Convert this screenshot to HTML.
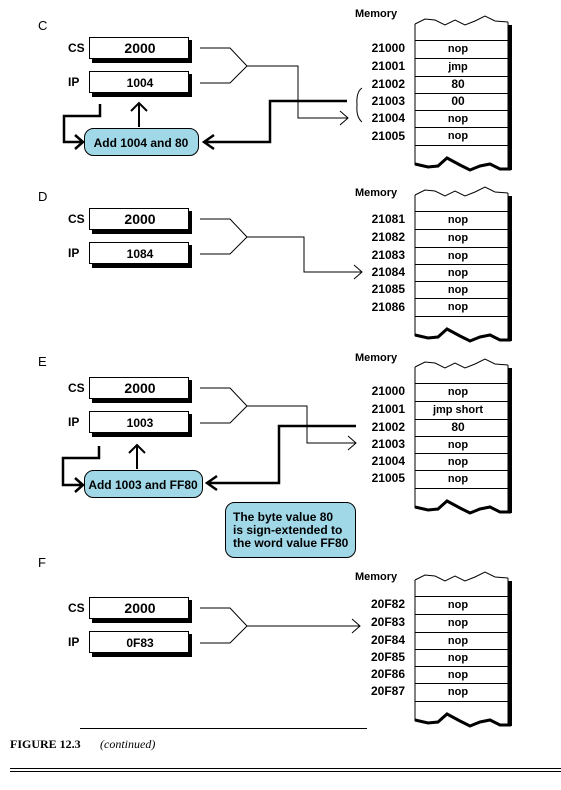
<!DOCTYPE html>
<html><head><meta charset="utf-8"><style>
html,body{margin:0;padding:0;background:#fff}
svg{display:block}
</style></head><body>
<svg width="561" height="790" viewBox="0 0 561 790" xmlns="http://www.w3.org/2000/svg" font-family="Liberation Sans, sans-serif" font-weight="bold" font-size="11">
<defs>
<g id="mem">
<rect x="508" y="25" width="4" height="145" fill="#000"/>
<path d="M415,24 L425,19 L435,20 L445,25 L455,20 L465,25 L475,21 L485,16 L495,21 L508,22" fill="none" stroke="#000" stroke-width="1"/>
<line x1="415" y1="24" x2="415" y2="165" stroke="#000"/>
<line x1="508" y1="22" x2="508" y2="168" stroke="#000"/>
<g stroke="#000" stroke-width="1">
<line x1="415" y1="40.5" x2="508" y2="40.5"/><line x1="415" y1="58.5" x2="508" y2="58.5"/>
<line x1="415" y1="76.5" x2="508" y2="76.5"/><line x1="415" y1="93.5" x2="508" y2="93.5"/>
<line x1="415" y1="110.5" x2="508" y2="110.5"/><line x1="415" y1="127.5" x2="508" y2="127.5"/>
<line x1="415" y1="145.5" x2="508" y2="145.5"/></g>
<path d="M415,164 L428,167 L438,166 L447,158 L460,165 L470,170 L480,166 L490,164 L500,169 L511,169" fill="none" stroke="#000" stroke-width="3"/>
</g>
<g id="regs">
<rect x="92" y="40" width="100" height="23" fill="#000"/>
<rect x="89.5" y="37.5" width="99" height="21" fill="#fff" stroke="#000"/>
<rect x="92" y="74" width="100" height="23" fill="#000"/>
<rect x="89.5" y="71.5" width="99" height="21" fill="#fff" stroke="#000"/>
<text x="68" y="52" font-size="12">CS</text><text x="68" y="86" font-size="12">IP</text>
<text x="140" y="53" text-anchor="middle" font-size="14">2000</text>
<path d="M200,48 L230,48 L247,66 L230,83 L200,83" fill="none" stroke="#000"/>
</g>
</defs>

<text x="355" y="17" font-size="11">Memory</text>
<text x="355" y="196" font-size="11">Memory</text>
<text x="355" y="361" font-size="11">Memory</text>
<text x="355" y="580" font-size="11">Memory</text>
<use href="#mem"/>
<use href="#mem" y="171"/>
<use href="#mem" y="343"/>
<use href="#mem" y="556"/>
<g font-size="12">
<g text-anchor="end">
<text x="405" y="52">21000</text><text x="405" y="70">21001</text><text x="405" y="88">21002</text><text x="405" y="105">21003</text><text x="405" y="122">21004</text><text x="405" y="140">21005</text>
<text x="405" y="223">21081</text><text x="405" y="241">21082</text><text x="405" y="259">21083</text><text x="405" y="276">21084</text><text x="405" y="293">21085</text><text x="405" y="311">21086</text>
<text x="405" y="395">21000</text><text x="405" y="413">21001</text><text x="405" y="431">21002</text><text x="405" y="448">21003</text><text x="405" y="465">21004</text><text x="405" y="482">21005</text>
<text x="405" y="608">20F82</text><text x="405" y="626">20F83</text><text x="405" y="644">20F84</text><text x="405" y="661">20F85</text><text x="405" y="678">20F86</text><text x="405" y="695">20F87</text>
</g>
<g text-anchor="middle" font-size="11">
<text x="458" y="52">nop</text><text x="458" y="70">jmp</text><text x="458" y="88" font-size="12">80</text><text x="458" y="105" font-size="12">00</text><text x="458" y="122">nop</text><text x="458" y="139">nop</text>
<text x="458" y="223">nop</text><text x="458" y="241">nop</text><text x="458" y="259">nop</text><text x="458" y="276">nop</text><text x="458" y="293">nop</text><text x="458" y="310">nop</text>
<text x="458" y="395">nop</text><text x="458" y="413">jmp short</text><text x="458" y="431" font-size="12">80</text><text x="458" y="448">nop</text><text x="458" y="465">nop</text><text x="458" y="482">nop</text>
<text x="458" y="608">nop</text><text x="458" y="626">nop</text><text x="458" y="644">nop</text><text x="458" y="661">nop</text><text x="458" y="678">nop</text><text x="458" y="695">nop</text>
</g></g>

<!-- C -->
<text x="38" y="30" font-weight="normal" font-size="13">C</text>
<use href="#regs"/>
<text x="140" y="87" text-anchor="middle" font-size="12">1004</text>
<path d="M247,66 L298,66 L298,118 L348,118 M340,111 L348,118 L340,125" fill="none" stroke="#000"/>
<path d="M362,88 Q356,92 357,105 Q356,117 362,122" fill="none" stroke="#000"/>
<rect x="84.5" y="128.5" width="114" height="27" rx="9" fill="#a0d8e8" stroke="#000"/>
<text x="141" y="147" text-anchor="middle" font-size="12">Add 1004 and 80</text>
<path d="M347,101 L270,101 L270,142 L206,142 M214,135 L204,142 L214,149" fill="none" stroke="#000" stroke-width="2.5"/>
<path d="M139,127 L139,104 M131,111 L139,103 L147,111" fill="none" stroke="#000" stroke-width="2"/>
<path d="M100,104 L100,116 L64,116 L64,142 L82,142 M75,135 L83,142 L75,149" fill="none" stroke="#000" stroke-width="2.5"/>

<!-- D -->
<text x="38" y="201" font-weight="normal" font-size="13">D</text>
<use href="#regs" y="171"/>
<text x="140" y="258" text-anchor="middle" font-size="12">1084</text>
<path d="M247,237 L304,237 L304,272 L362,272 M354,265 L362,272 L354,279" fill="none" stroke="#000"/>

<!-- E -->
<text x="38" y="366" font-weight="normal" font-size="13">E</text>
<use href="#regs" y="340"/>
<text x="140" y="427" text-anchor="middle" font-size="12">1003</text>
<path d="M247,406 L307,406 L307,443 L356,443 M348,436 L356,443 L348,450" fill="none" stroke="#000"/>
<rect x="84.5" y="470.5" width="118" height="27" rx="9" fill="#a0d8e8" stroke="#000"/>
<text x="143" y="489" text-anchor="middle" font-size="12">Add 1003 and FF80</text>
<path d="M356,426 L279,426 L279,483 L209,483 M217,476 L207,483 L217,490" fill="none" stroke="#000" stroke-width="2.5"/>
<path d="M137,469 L137,446 M129,453 L137,445 L145,453" fill="none" stroke="#000" stroke-width="2"/>
<path d="M99,446 L99,458 L63,458 L63,485 L82,485 M75,478 L83,485 L75,492" fill="none" stroke="#000" stroke-width="2.5"/>
<rect x="225.5" y="502.5" width="130" height="55" rx="9" fill="#a0d8e8" stroke="#000"/>
<text x="233" y="521" font-size="12">The byte value 80</text>
<text x="233" y="534" font-size="12">is sign-extended to</text>
<text x="233" y="547" font-size="12">the word value FF80</text>

<!-- F -->
<text x="38" y="567" font-weight="normal" font-size="13">F</text>
<use href="#regs" y="560"/>
<text x="140" y="647" text-anchor="middle" font-size="12">0F83</text>
<path d="M247,626 L360,626 M352,619 L360,626 L352,633" fill="none" stroke="#000"/>

<!-- footer -->
<line x1="80" y1="728.5" x2="367" y2="728.5" stroke="#000"/>
<text x="10" y="748" font-family="Liberation Serif, serif" font-weight="bold" font-size="12">FIGURE 12.3</text>
<text x="100" y="748" font-family="Liberation Serif, serif" font-weight="normal" font-style="italic" font-size="12">(continued)</text>
<line x1="10" y1="768.5" x2="561" y2="768.5" stroke="#000"/>
<line x1="10" y1="771.5" x2="561" y2="771.5" stroke="#000"/>
</svg>
</body></html>
